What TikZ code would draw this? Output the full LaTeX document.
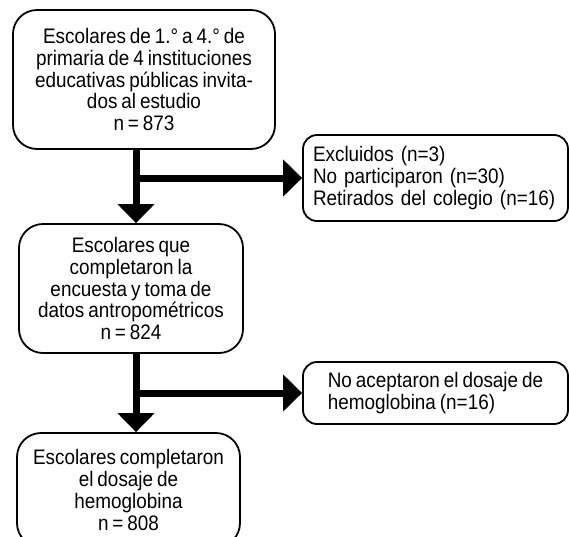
\documentclass[tikz,border=0pt]{standalone}
\usepackage{fontspec}
\setmainfont{Liberation Sans}[FakeStretch=0.9,WordSpace=0.75]
\usetikzlibrary{arrows.meta}
\begin{document}
\begin{tikzpicture}[x=1pt,y=-1pt,
  box/.style={draw=black, line width=1.8pt, rounded corners=24pt, inner sep=0pt,
    font=\fontsize{21}{21.7}\selectfont, align=center},
  sidebox/.style={box, rounded corners=14pt},
  arr/.style={line width=7pt, -{Triangle[length=19pt,width=36pt]}}]
\useasboundingbox (0,0) rectangle (569,536);
\begin{scope}
\clip (0,0) rectangle (569,536);
\node[box, minimum width=262pt, minimum height=139pt] (b1) at (144,79.5)
  {Escolares de 1.° a 4.° de\\primaria de 4 instituciones\\educativas públicas invita-\\dos al estudio\\n = 873};
\node[sidebox, minimum width=265pt, minimum height=86pt, text width=245pt, inner xsep=10pt, align=left] (b2) at (435.5,178)
  {Excluidos (n=3)\\No participaron (n=30)\\Retirados del colegio (n=16)};
\node[box, minimum width=224pt, minimum height=129pt] (b3) at (131,288.5)
  {Escolares que\\completaron la\\encuesta y toma de\\datos antropométricos\\n = 824};
\node[sidebox, minimum width=265pt, minimum height=62pt, align=left] (b5) at (435.5,393)
  {No aceptaron el dosaje de\\hemoglobina (n=16)};
\node[box, minimum width=223pt, minimum height=114pt] (b4) at (128.5,490)
  {Escolares completaron\\el dosaje de\\hemoglobina\\n = 808};
\end{scope}
\coordinate (t) at (136,0);
\draw[arr] (b1.south -| t) -- (b3.north -| t);
\draw[arr] (t |- b2.west) -- (b2.west);
\draw[arr] (b3.south -| t) -- (b4.north -| t);
\draw[arr] (t |- b5.west) -- (b5.west);
\end{tikzpicture}
\end{document}
